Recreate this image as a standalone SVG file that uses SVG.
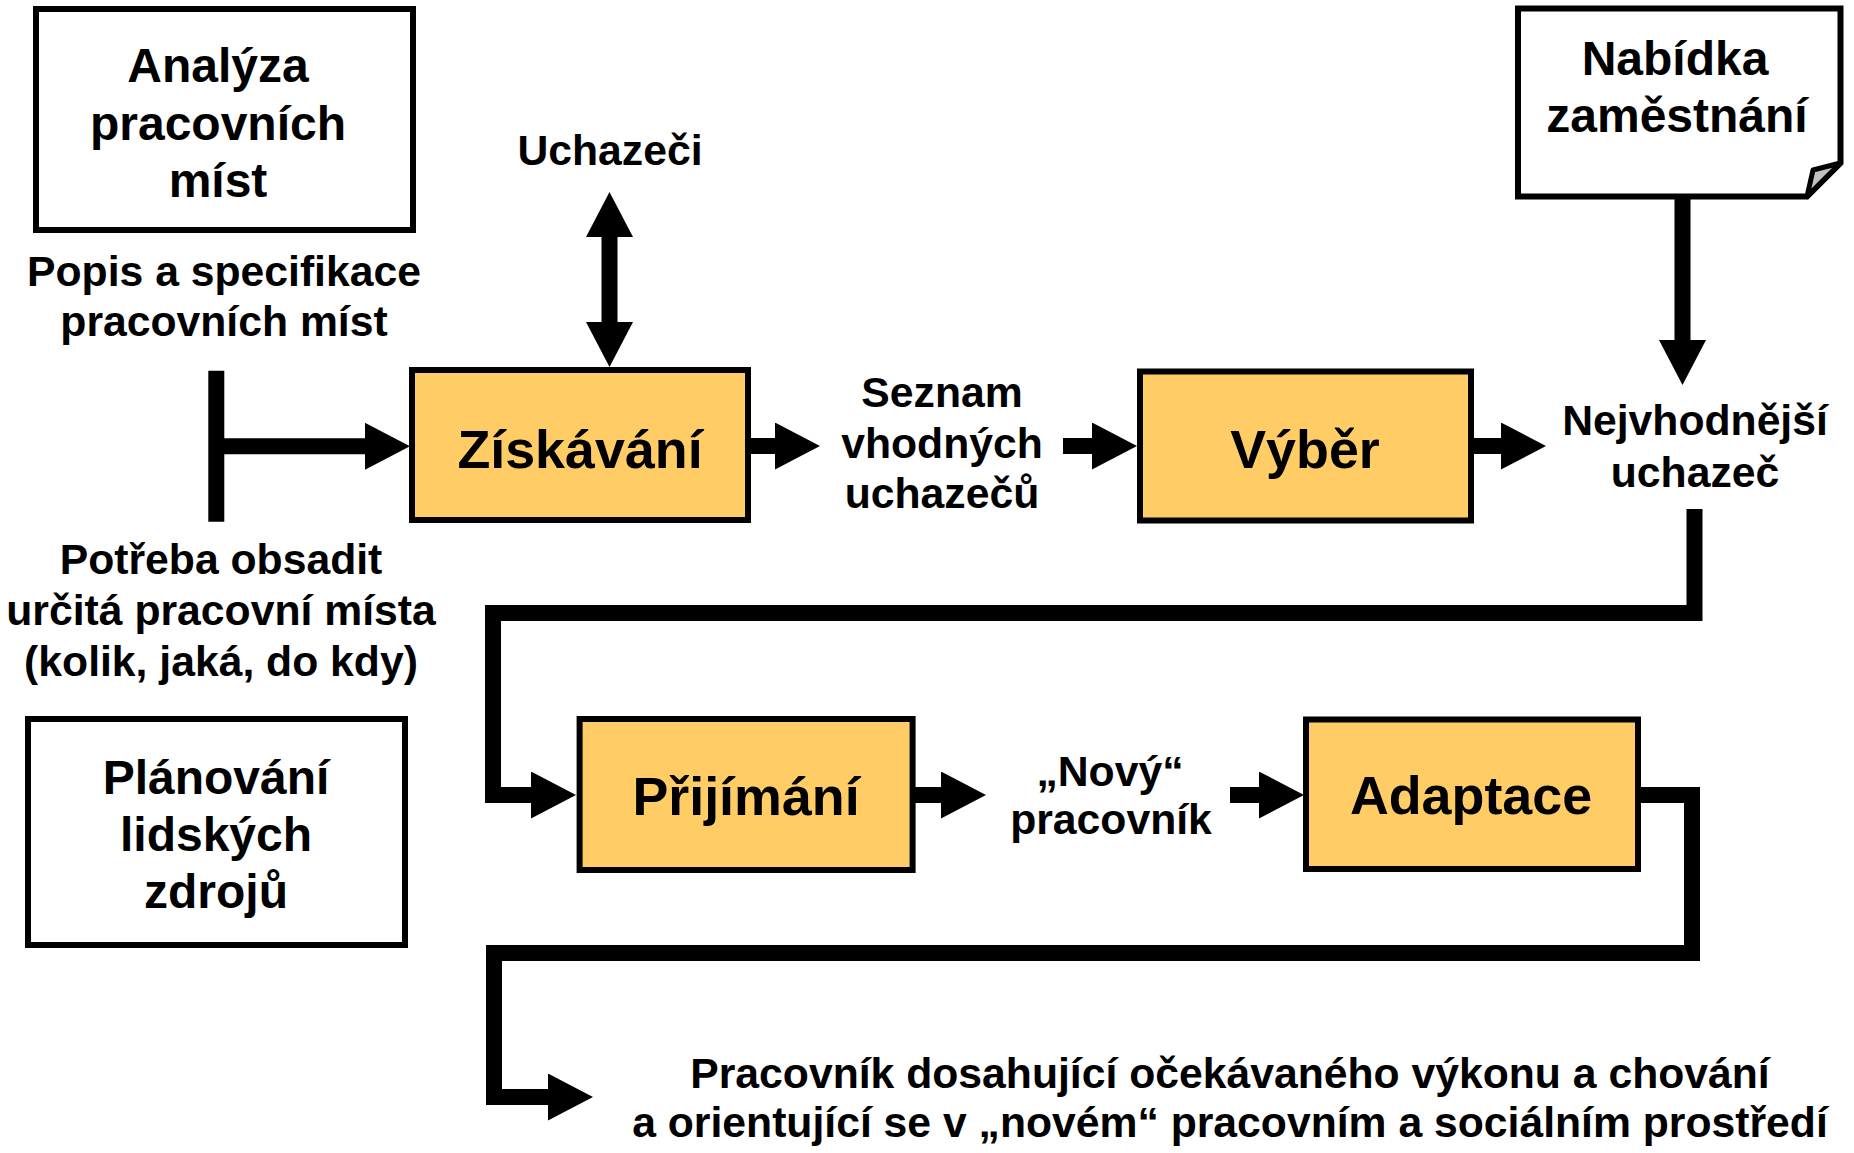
<svg xmlns="http://www.w3.org/2000/svg" width="1854" height="1153" viewBox="0 0 1854 1153">
  <defs>
    <style>
      .box { fill: #ffffff; stroke: #000000; stroke-width: 6; }
      .proc { fill: #ffcc66; stroke: #000000; stroke-width: 6; }
      .t { font-family: "Liberation Sans", Arial, sans-serif; font-weight: bold; fill: #000000; text-anchor: middle; }
      .s42 { font-size: 42.7px; }
      .s47 { font-size: 48px; }
      .s53 { font-size: 53.8px; }
      .conn { fill: none; stroke: #000000; stroke-width: 16; stroke-linejoin: miter; stroke-linecap: butt; }
      .arr { marker-end: url(#ah); }
    </style>
    <marker id="ah" markerUnits="userSpaceOnUse" viewBox="0 0 45 47" markerWidth="45" markerHeight="47" refX="1" refY="23.5" orient="auto-start-reverse">
      <path d="M0,0 L45,23.5 L0,47 Z" fill="#000000"/>
    </marker>
  </defs>

  <rect width="1854" height="1153" fill="#ffffff"/>

  <g id="connectors">
    <path class="conn" d="M216.3,370.7 V521.7"/>
    <path class="conn arr" d="M216,446.3 H366"/>
    <path class="conn" d="M609.5,236 V323" marker-start="url(#ah)" marker-end="url(#ah)"/>
    <path class="conn arr" d="M750,446 H776"/>
    <path class="conn arr" d="M1063,446 H1093"/>
    <path class="conn arr" d="M1473,446 H1502"/>
    <path class="conn arr" d="M1682.5,198 V341"/>
    <path class="conn arr" d="M1694.5,509 V613 H493 V795 H532"/>
    <path class="conn arr" d="M914,795 H942"/>
    <path class="conn arr" d="M1230,795 H1260"/>
    <path class="conn arr" d="M1640,795 H1692 V953 H494 V1097 H549"/>
  </g>

  <g id="analyza">
    <rect class="box" x="36" y="9" width="377" height="221"/>
    <text class="t s47" x="218" y="82">Analýza</text>
    <text class="t s47" x="218" y="140">pracovních</text>
    <text class="t s47" x="218" y="197">míst</text>
  </g>

  <g id="popis">
    <text class="t s42" x="224" y="286">Popis a specifikace</text>
    <text class="t s42" x="224" y="336">pracovních míst</text>
  </g>

  <g id="potreba">
    <text class="t s42" x="221" y="574">Potřeba obsadit</text>
    <text class="t s42" x="221" y="625">určitá pracovní místa</text>
    <text class="t s42" x="221" y="676">(kolik, jaká, do kdy)</text>
  </g>

  <g id="planovani">
    <rect class="box" x="28" y="719" width="377" height="226"/>
    <text class="t s47" x="216" y="794">Plánování</text>
    <text class="t s47" x="216" y="851">lidských</text>
    <text class="t s47" x="216" y="908">zdrojů</text>
  </g>

  <g id="uchazeci">
    <text class="t s42" x="610" y="165">Uchazeči</text>
  </g>

  <g id="ziskavani">
    <rect class="proc" x="412" y="370" width="336" height="150"/>
    <text class="t s53" x="580" y="468">Získávání</text>
  </g>

  <g id="seznam">
    <text class="t s42" x="942" y="407">Seznam</text>
    <text class="t s42" x="942" y="458">vhodných</text>
    <text class="t s42" x="942" y="508">uchazečů</text>
  </g>

  <g id="vyber">
    <rect class="proc" x="1140" y="371.5" width="331" height="149"/>
    <text class="t s53" x="1305" y="468">Výběr</text>
  </g>

  <g id="nabidka">
    <path class="box" d="M1518,8.5 H1840.5 V163 L1807,196.5 H1518 Z"/>
    <path d="M1807,196.5 L1813,170 L1840.5,163 Z" fill="#c0c0c0" stroke="#000000" stroke-width="5" stroke-linejoin="round"/>
    <text class="t s47" x="1675" y="75">Nabídka</text>
    <text class="t s47" x="1677" y="132">zaměstnání</text>
  </g>

  <g id="nejvhodnejsi">
    <text class="t s42" x="1695" y="435">Nejvhodnější</text>
    <text class="t s42" x="1695" y="487">uchazeč</text>
  </g>

  <g id="prijimani">
    <rect class="proc" x="579.6" y="719" width="333" height="151"/>
    <text class="t s53" x="746" y="815">Přijímání</text>
  </g>

  <g id="novy">
    <text class="t s42" x="1110" y="786">„Nový“</text>
    <text class="t s42" x="1111" y="834">pracovník</text>
  </g>

  <g id="adaptace">
    <rect class="proc" x="1306" y="719.5" width="332" height="149.5"/>
    <text class="t s53" x="1471" y="814">Adaptace</text>
  </g>

  <g id="vysledek">
    <text class="t s42" x="1230" y="1088">Pracovník dosahující očekávaného výkonu a chování</text>
    <text class="t s42" x="1230" y="1137">a orientující se v „novém“ pracovním a sociálním prostředí</text>
  </g>
</svg>
